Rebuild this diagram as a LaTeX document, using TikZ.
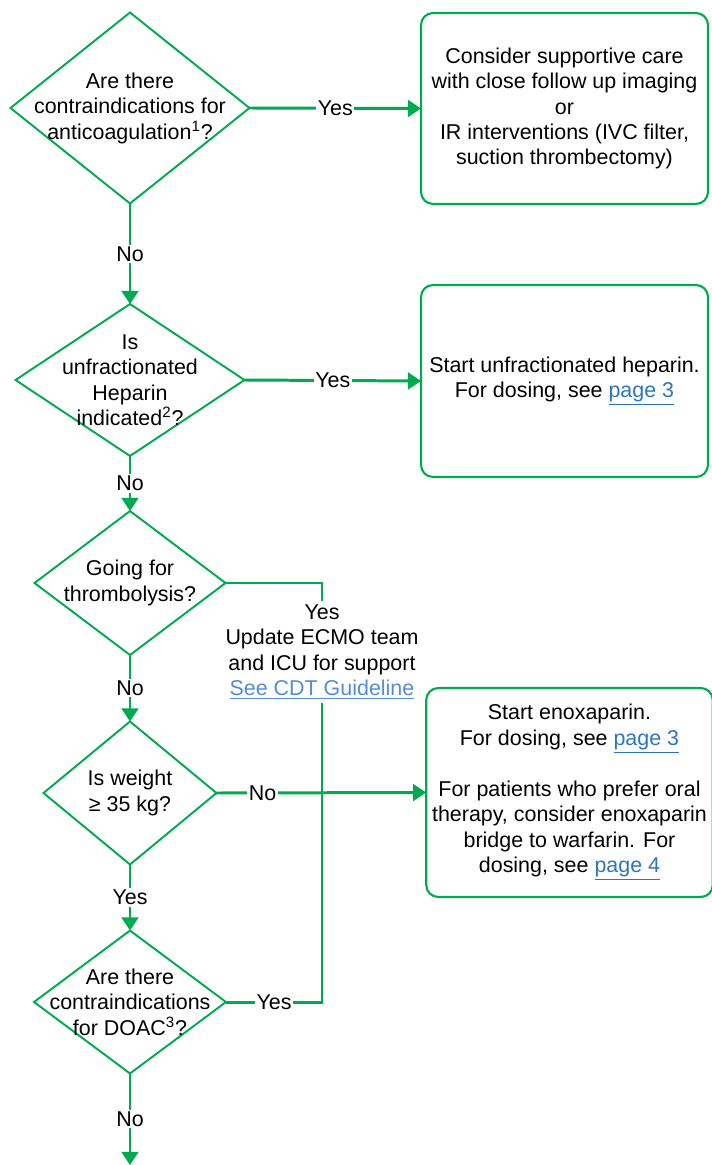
\documentclass[tikz,border=0pt]{standalone}
\usepackage{fontspec}
\setmainfont{Liberation Sans}
\usetikzlibrary{shapes.geometric,arrows.meta}

\definecolor{flowgreen}{RGB}{0,170,78}
\definecolor{linkblue}{RGB}{46,117,190}
\definecolor{cdtblue}{RGB}{85,140,215}
\newcommand{\lnk}[2][linkblue]{{\color{#1}\underline{#2}}}

\tikzset{
  decision/.style={diamond, draw=flowgreen, line width=1.1pt, inner sep=0pt, outer sep=0pt},
  qtext/.style={align=center, font=\fontsize{12.2}{14.5}\selectfont},
  action/.style={draw=flowgreen, line width=1.2pt, rounded corners=0.24cm, align=center,
    font=\fontsize{12.2}{14.5}\selectfont, outer sep=0pt},
  flow/.style={draw=flowgreen, line width=1.7pt},
  arrow/.style={flow, -{Triangle[length=7.5pt, width=9.5pt]}},
  lbl/.style={fill=white, inner sep=1pt, font=\fontsize{12.2}{14.5}\selectfont}
}

\begin{document}
\begin{tikzpicture}[x=0.02cm, y=-0.02cm]

\useasboundingbox (0,0) rectangle (712,1165);

% Decisions
\node[decision, minimum width=4.78cm, minimum height=3.82cm] (q1) at (130,108) {};
\node[qtext] at (q1) {Are there\\contraindications for\\anticoagulation\textsuperscript{1}?};

\node[decision, minimum width=4.58cm, minimum height=3.04cm] (q2) at (130,380) {};
\node[qtext] at (q2) {Is\\unfractionated\\Heparin\\indicated\textsuperscript{2}?};

\node[decision, minimum width=3.82cm, minimum height=2.88cm] (q3) at (130,583) {};
\node[qtext] at (q3) {Going for\\thrombolysis?};

\node[decision, minimum width=3.46cm, minimum height=2.86cm] (q4) at (130,793) {};
\node[qtext] at (q4) {Is weight\\≥ 35 kg?};

\node[decision, minimum width=3.84cm, minimum height=2.86cm] (q5) at (130,1002) {};
\node[qtext] at (q5) {Are there\\contraindications\\for DOAC\textsuperscript{3}?};

% Actions
\node[action, minimum width=5.74cm, minimum height=3.82cm] (b1) at (564.5,108.5)
  {Consider supportive care\\with close follow up imaging\\or\\IR interventions (IVC filter,\\suction thrombectomy)};

\node[action, minimum width=5.74cm, minimum height=3.84cm] (b2) at (564.5,381)
  {Start unfractionated heparin.\\For dosing, see \lnk{page 3}};

\node[action, minimum width=5.7cm, minimum height=4.18cm] (b3) at (569.5,792.5)
  {Start enoxaparin.\\For dosing, see \lnk{page 3}\\[14.5pt]
   For patients who prefer oral\\therapy, consider enoxaparin\\bridge to warfarin. For\\dosing, see \lnk{page 4}};

% ECMO note
\node[qtext, inner sep=2pt] (ecmo) at (322,652)
  {Yes\\Update ECMO team\\and ICU for support\\\lnk[cdtblue]{See CDT Guideline}};

\coordinate (end) at (130,1165);

% Connectors
\draw[arrow] (q1.east) -- node[lbl] {Yes} (b1.west);
\draw[arrow] (q1.south) -- node[lbl] {No} (q2.north);
\draw[arrow] (q2.east) -- node[lbl] {Yes} (b2.west);
\draw[arrow] (q2.south) -- node[lbl] {No} (q3.north);
\draw[flow] (q3.east) -| (ecmo.north);
\draw[arrow] (q3.south) -- node[lbl] {No} (q4.north);
\draw[flow] (q5.east) -| node[lbl, pos=0.25] {Yes} (ecmo.south);
\draw[arrow] (q4.east) -- node[lbl, pos=0.22] {No} (b3.west);
\draw[arrow] (q4.south) -- node[lbl] {Yes} (q5.north);
\draw[arrow] (q5.south) -- node[lbl] {No} (end);

\end{tikzpicture}
\end{document}
